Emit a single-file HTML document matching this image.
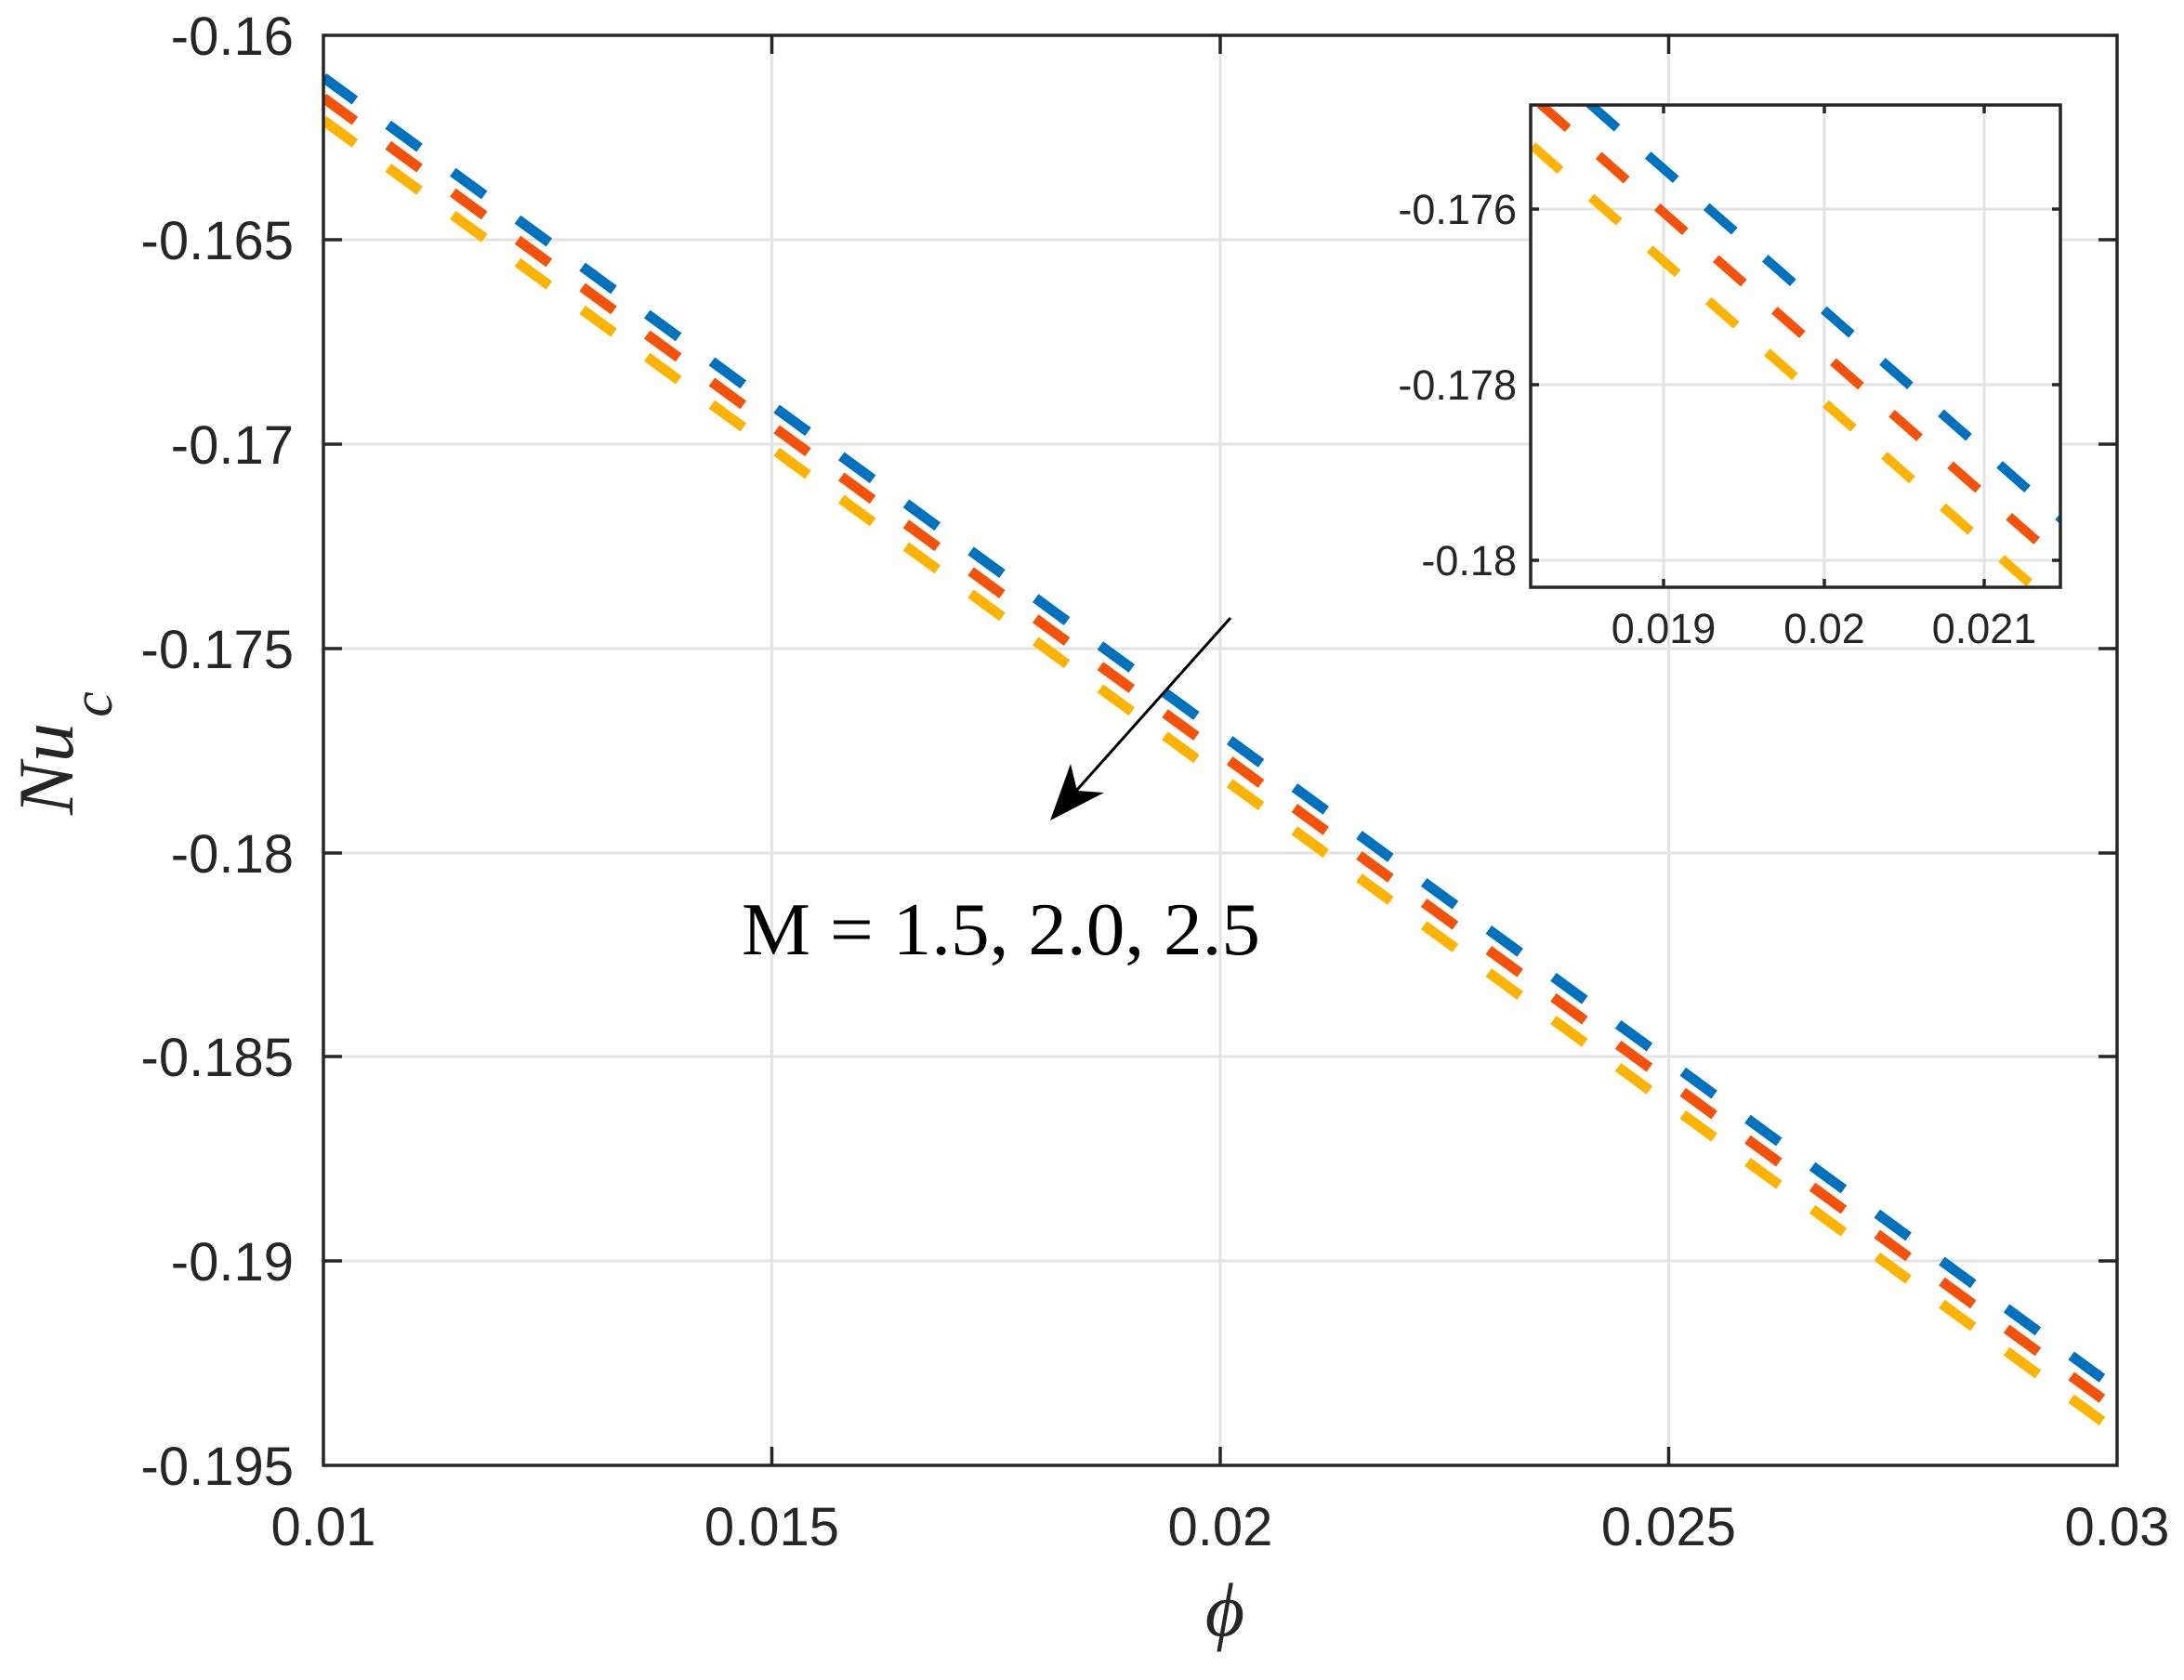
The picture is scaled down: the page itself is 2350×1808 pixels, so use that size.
<!DOCTYPE html>
<html><head><meta charset="utf-8"><style>html,body{margin:0;padding:0;background:#fff}svg{display:block}</style></head>
<body>
<svg width="2350" height="1808" viewBox="0 0 2350 1808" xmlns="http://www.w3.org/2000/svg">
<rect width="2350" height="1808" fill="#fff"/>
<defs>
<clipPath id="mc"><rect x="348" y="38" width="1930" height="1539"/></clipPath>
<clipPath id="ic"><rect x="1647" y="113" width="570" height="519"/></clipPath>
</defs>
<g stroke="#e3e3e3" stroke-width="3">
<line x1="830.5" y1="38" x2="830.5" y2="1577"/><line x1="1313" y1="38" x2="1313" y2="1577"/><line x1="1795.5" y1="38" x2="1795.5" y2="1577"/>
<line x1="348" y1="258" x2="2278" y2="258"/><line x1="348" y1="478" x2="2278" y2="478"/><line x1="348" y1="698" x2="2278" y2="698"/>
<line x1="348" y1="918" x2="2278" y2="918"/><line x1="348" y1="1137" x2="2278" y2="1137"/><line x1="348" y1="1357" x2="2278" y2="1357"/>
</g>
<g clip-path="url(#mc)" stroke-width="11" stroke-dasharray="42 44.3" fill="none">
<line x1="348" y1="83.3" x2="2262" y2="1483.3" stroke="#0072BD"/>
<line x1="348" y1="105.3" x2="2262" y2="1505.3" stroke="#F4520A"/>
<line x1="348" y1="129.5" x2="2262" y2="1529.5" stroke="#FDB300"/>
</g>
<g stroke="#262626" stroke-width="3.5" fill="none">
<rect x="348" y="38" width="1930" height="1539"/>
<path d="M348 258h20M348 478h20M348 698h20M348 918h20M348 1137h20M348 1357h20M2278 258h-20M2278 478h-20M2278 698h-20M2278 918h-20M2278 1137h-20M2278 1357h-20M830.5 1577v-20M1313 1577v-20M1795.5 1577v-20M830.5 38v20M1313 38v20M1795.5 38v20"/>
</g>
<g font-family="Liberation Sans, sans-serif" font-size="58" fill="#262626" text-anchor="end">
<text x="316" y="59">-0.16</text><text x="316" y="279">-0.165</text><text x="316" y="499">-0.17</text>
<text x="316" y="719">-0.175</text><text x="316" y="939">-0.18</text><text x="316" y="1158">-0.185</text>
<text x="316" y="1378">-0.19</text><text x="316" y="1598">-0.195</text>
</g>
<g font-family="Liberation Sans, sans-serif" font-size="58" fill="#262626" text-anchor="middle">
<text x="348" y="1663">0.01</text><text x="830.5" y="1663">0.015</text><text x="1313" y="1663">0.02</text>
<text x="1795.5" y="1663">0.025</text><text x="2278" y="1663">0.03</text>
</g>
<text x="1318" y="1760" font-family="Liberation Serif, serif" font-style="italic" font-size="82" fill="#262626" text-anchor="middle">ϕ</text>
<text transform="translate(78,877) rotate(-90)" font-family="Liberation Serif, serif" font-style="italic" font-size="85" fill="#262626">Nu<tspan dy="42" dx="6" font-size="62">c</tspan></text>
<text x="798" y="1027" font-family="Liberation Serif, serif" font-size="80" fill="#000" textLength="558" lengthAdjust="spacingAndGlyphs">M = 1.5, 2.0, 2.5</text>
<line x1="1324" y1="665" x2="1150" y2="860" stroke="#000" stroke-width="3"/>
<polygon points="1130,883 1152,822 1159,851 1188,853" fill="#000"/>
<rect x="1647" y="113" width="570" height="519" fill="#fff"/>
<g stroke="#e3e3e3" stroke-width="3">
<line x1="1790" y1="113" x2="1790" y2="632"/><line x1="1963" y1="113" x2="1963" y2="632"/><line x1="2135" y1="113" x2="2135" y2="632"/>
<line x1="1647" y1="225" x2="2217" y2="225"/><line x1="1647" y1="414" x2="2217" y2="414"/><line x1="1647" y1="603" x2="2217" y2="603"/>
</g>
<g clip-path="url(#ic)" stroke-width="10" stroke-dasharray="40 44" fill="none">
<line x1="1584" y1="0.4" x2="2260" y2="595.3" stroke="#0072BD"/>
<line x1="1531" y1="0.8" x2="2260" y2="642.3" stroke="#F4520A"/>
<line x1="1586" y1="101.5" x2="2260" y2="694.6" stroke="#FDB300"/>
</g>
<g stroke="#262626" stroke-width="3.5" fill="none">
<rect x="1647" y="113" width="570" height="519"/>
<path d="M1647 225h9M1647 414h9M1647 603h9M2217 225h-9M2217 414h-9M2217 603h-9M1790 632v-9M1963 632v-9M2135 632v-9M1790 113v9M1963 113v9M2135 113v9"/>
</g>
<g font-family="Liberation Sans, sans-serif" font-size="45" fill="#262626" text-anchor="end">
<text x="1632" y="241">-0.176</text><text x="1632" y="430">-0.178</text><text x="1632" y="619">-0.18</text>
</g>
<g font-family="Liberation Sans, sans-serif" font-size="45" fill="#262626" text-anchor="middle">
<text x="1790" y="692">0.019</text><text x="1963" y="692">0.02</text><text x="2135" y="692">0.021</text>
</g>
</svg>
</body></html>
